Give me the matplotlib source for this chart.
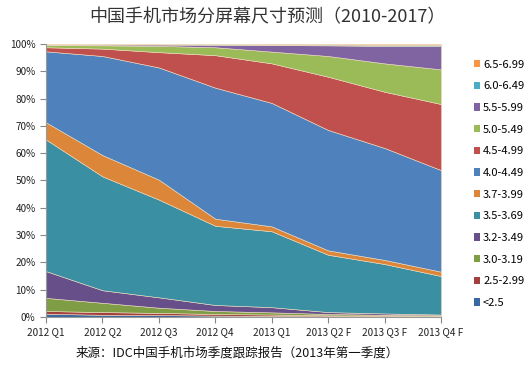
import matplotlib
matplotlib.use("Agg")
import matplotlib.pyplot as plt
from matplotlib.patches import Patch
import numpy as np

plt.rcParams['font.family'] = ['Noto Sans CJK SC', 'DejaVu Sans']

quarters = ["2012 Q1", "2012 Q2", "2012 Q3", "2012 Q4", "2013 Q1",
            "2013 Q2 F", "2013 Q3 F", "2013 Q4 F"]

# share of shipments per screen size band (%), bottom of stack first
lt_2_5 = [1.2, 0.8, 0.7, 0.5, 0.4, 0.3, 0.2, 0.2]
s_2_5 = [1.0, 1.0, 0.8, 0.6, 0.5, 0.3, 0.3, 0.2]
s_3_0 = [4.8, 3.4, 1.9, 1.1, 0.8, 0.5, 0.3, 0.2]
s_3_2 = [9.8, 4.6, 3.8, 2.2, 1.9, 0.7, 0.5, 0.3]
s_3_5 = [48.2, 41.7, 35.8, 29.0, 27.8, 21.0, 18.1, 14.1]
s_3_7 = [6.3, 7.8, 7.3, 2.6, 1.8, 1.6, 1.5, 1.6]
s_4_0 = [26.0, 36.3, 41.1, 48.0, 45.2, 44.1, 41.0, 37.2]
s_4_5 = [1.5, 2.7, 5.6, 11.9, 14.5, 19.5, 20.6, 24.2]
s_5_0 = [0.8, 1.2, 2.3, 2.9, 4.3, 7.6, 10.4, 12.7]
s_5_5 = [0.2, 0.3, 0.5, 0.9, 2.4, 3.9, 6.4, 8.5]
s_6_0 = [0.1, 0.1, 0.1, 0.2, 0.2, 0.3, 0.4, 0.5]
s_6_5 = [0.1, 0.1, 0.1, 0.1, 0.2, 0.2, 0.3, 0.3]

labels = ["<2.5", "2.5-2.99", "3.0-3.19", "3.2-3.49", "3.5-3.69", "3.7-3.99",
          "4.0-4.49", "4.5-4.99", "5.0-5.49", "5.5-5.99", "6.0-6.49", "6.5-6.99"]
series = [lt_2_5, s_2_5, s_3_0, s_3_2, s_3_5, s_3_7,
          s_4_0, s_4_5, s_5_0, s_5_5, s_6_0, s_6_5]
colors = ["#3B67A3", "#A33F3C", "#7F9D45", "#67508A", "#3A8FA3", "#DC863A",
          "#4F81BD", "#C0504D", "#9BBB59", "#8064A2", "#4BACC6", "#F79646"]

data = np.array(series, dtype=float)
data = data / data.sum(axis=0) * 100  # 100% stacked

fig = plt.figure(figsize=(5.32, 3.65), dpi=100)
ax = fig.add_axes([0.0865, 0.1315, 0.7425, 0.748])

x = np.arange(len(quarters))
polys = ax.stackplot(x, data, colors=colors, linewidth=0.4, edgecolor="#efdcc0")

ax.set_xlim(0, len(quarters) - 1)
ax.set_ylim(0, 100)
ax.set_yticks(np.arange(0, 101, 10))
ax.set_yticklabels([f"{v}%" for v in range(0, 101, 10)])
ax.set_xticks(x)
ax.set_xticklabels(quarters)
ax.tick_params(axis="both", labelsize=7.2, colors="#888888", length=4, width=0.8,
               labelcolor="#222222")
ax.tick_params(axis="x", pad=3)
for s in ["top", "right"]:
    ax.spines[s].set_visible(False)
for s in ["left", "bottom"]:
    ax.spines[s].set_color("#999999")
    ax.spines[s].set_linewidth(0.8)

handles = [Patch(facecolor=c, edgecolor="none") for c in colors]
leg = fig.legend(handles[::-1], labels[::-1], loc="upper left",
                 bbox_to_anchor=(0.882, 0.849), frameon=False, fontsize=8,
                 handlelength=0.6, handleheight=0.6, handletextpad=0.25,
                 labelspacing=1.05, borderaxespad=0)

fig.text(0.502, 0.952, "中国手机市场分屏幕尺寸预测（2010-2017）", ha="center",
         va="center", fontsize=13, color="#333333")
fig.text(0.445, 0.032, "来源：IDC中国手机市场季度跟踪报告（2013年第一季度）",
         ha="center", va="center", fontsize=9, color="#111111")

fig.savefig("out.png", dpi=100)
